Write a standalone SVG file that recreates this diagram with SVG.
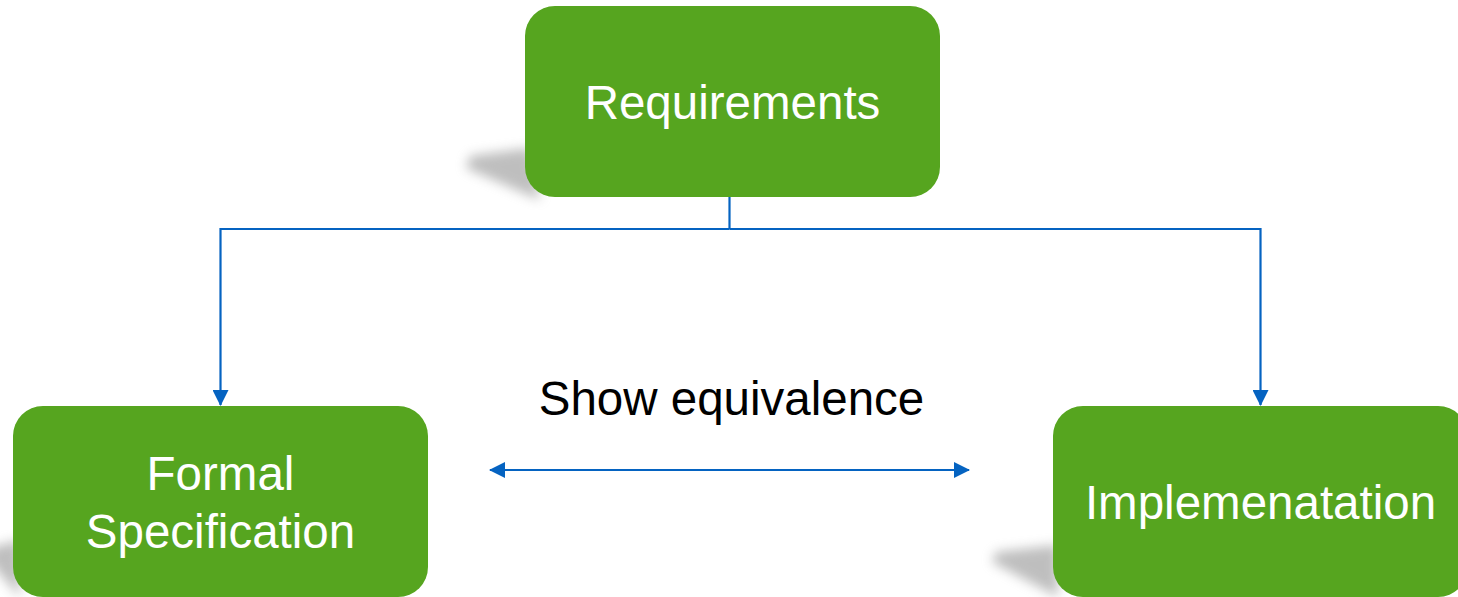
<svg xmlns="http://www.w3.org/2000/svg" width="1458" height="597" viewBox="0 0 1458 597">
  <style>
    .box { fill: #56A51F; }
    .label { fill: #FFFFFF; font-family: "Liberation Sans", Arial, sans-serif; font-size: 47.5px; text-anchor: middle; }
    .caption { fill: #000000; font-family: "Liberation Sans", Arial, sans-serif; font-size: 47.5px; text-anchor: middle; }
    .wire { fill: none; stroke: #0563C1; stroke-width: 2.2; }
    .shadow { fill: #7f7f7f; opacity: 0.5; filter: url(#soft); }
  </style>
  <defs>
    <filter id="soft" x="-50%" y="-50%" width="200%" height="200%">
      <feGaussianBlur stdDeviation="6"/>
    </filter>
    <marker id="head" viewBox="0 0 16 16" refX="15" refY="8" markerWidth="16" markerHeight="16" markerUnits="userSpaceOnUse" orient="auto-start-reverse">
      <path d="M0,0 L16,8 L0,16 Z" fill="#0563C1"/>
    </marker>
  </defs>

  <!-- perspective shadows behind the boxes -->
  <path class="shadow" d="M530,148 L470,156 L466,168 L540,200 Z"/>
  <path class="shadow" d="M20,540 L-10,548 L-12,560 L20,597 Z"/>
  <path class="shadow" d="M1058,545 L996,552 L992,562 L1058,597 Z"/>

  <g id="requirements">
    <rect class="box" x="525" y="6" width="415" height="191" rx="30"/>
    <text class="label" x="732.5" y="119">Requirements</text>
  </g>

  <g id="formal-specification">
    <rect class="box" x="13" y="406" width="415" height="191" rx="30"/>
    <text class="label" x="220.5" y="490">Formal</text>
    <text class="label" x="220.5" y="548">Specification</text>
  </g>

  <g id="implementation">
    <rect class="box" x="1053" y="406" width="415" height="191" rx="30"/>
    <text class="label" x="1260.5" y="519">Implemenatation</text>
  </g>

  <g id="show-equivalence">
    <text class="caption" x="731.5" y="415">Show equivalence</text>
  </g>

  <g id="connectors">
    <path class="wire" d="M729.5,197 V229"/>
    <path class="wire" d="M729.5,229 H220.5 V405" marker-end="url(#head)"/>
    <path class="wire" d="M729.5,229 H1260.5 V405" marker-end="url(#head)"/>
    <path class="wire" d="M490,470 H969" marker-start="url(#head)" marker-end="url(#head)"/>
  </g>
</svg>
